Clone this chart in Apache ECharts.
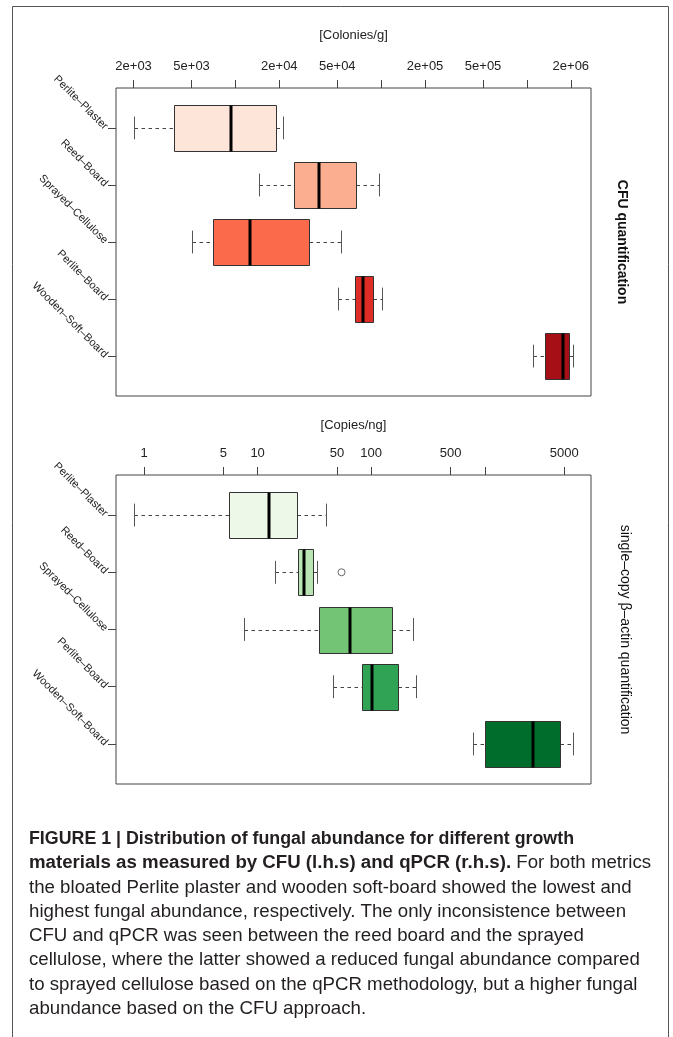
<!DOCTYPE html>
<html><head><meta charset="utf-8">
<script src="https://cdn.jsdelivr.net/npm/echarts@6/dist/echarts.min.js"></script>
<style>html,body{margin:0;padding:0;background:#fff}#c{width:673px;height:1037px}</style>
</head><body><div id="c"></div>
<script>
const categories = ['Perlite–Plaster', 'Reed–Board', 'Sprayed–Cellulose', 'Perlite–Board', 'Wooden–Soft–Board'];
// box statistics: [lower whisker, Q1, median, Q3, upper whisker]
const cfuStats = [
  [2000, 3760, 9310, 19100, 21200],
  [14500, 25300, 37600, 67000, 96300],
  [5000, 7000, 12500, 31900, 53400],
  [50900, 66300, 74900, 87700, 101000],
  [1100000, 1330000, 1760000, 1950000, 2080000]
];
const qpcrStats = [
  [0.81, 5.6, 12.7, 22.1, 40.1],
  [14.3, 22.6, 25.7, 31.0, 33.2],
  [7.6, 35.0, 65.3, 151, 233],
  [45.9, 83.3, 102, 172, 248],
  [781, 1010, 2640, 4620, 5990]
];
const qpcrOutliers = [[54.8, 2]];
const cfuColors = ['#FEE5D9', '#FCAE91', '#FB6A4A', '#DE2D26', '#A50F15'];
const qpcrColors = ['#EDF8E9', '#BAE4B3', '#74C476', '#31A354', '#006D2C'];
const cfuTickValues = [2e3, 5e3, 1e4, 2e4, 5e4, 1e5, 2e5, 5e5, 1e6, 2e6];
const cfuLabelValues = [2e3, 5e3, 2e4, 5e4, 2e5, 5e5, 2e6];
const cfuLabelTexts = ['2e+03', '5e+03', '2e+04', '5e+04', '2e+05', '5e+05', '2e+06'];
const qpcrTickValues = [1, 5, 10, 50, 100, 500, 1000, 5000];
const qpcrLabelValues = [1, 5, 10, 50, 100, 500, 5000];
const qpcrLabelTexts = ['1', '5', '10', '50', '100', '500', '5000'];
const captionLines = [
  'FIGURE 1 | Distribution of fungal abundance for different growth',
  ['materials as measured by CFU (l.h.s) and qPCR (r.h.s).', ' For both metrics'],
  'the bloated Perlite plaster and wooden soft-board showed the lowest and',
  'highest fungal abundance, respectively. The only inconsistence between',
  'CFU and qPCR was seen between the reed board and the sprayed',
  'cellulose, where the latter showed a reduced fungal abundance compared',
  'to sprayed cellulose based on the qPCR methodology, but a higher fungal',
  'abundance based on the CFU approach.'
];

const FONT = '"Liberation Sans", Arial, Helvetica, sans-serif';
const ctx = document.createElement('canvas').getContext('2d');
ctx.font = '100px "Liberation Sans"';
const capFs = 100 * 611 / ctx.measureText(captionLines[5]).width;
ctx.font = 'bold ' + capFs + 'px "Liberation Sans"';
const line1Scale = Math.min(1, 545 / ctx.measureText(captionLines[0]).width);

function labelFor(values, texts) {
  return function (v) {
    for (let i = 0; i < values.length; i++) if (Math.abs(values[i] - v) / values[i] < 1e-6) return texts[i];
    return '';
  };
}

function boxRender(colors) {
  return function (params, api) {
    const y = api.value(0);
    const v = [1, 2, 3, 4, 5].map(i => api.value(i));
    const xs = v.map(val => Math.round(api.coord([val, y])[0]) + 0.5);
    const yc = Math.round(api.coord([v[0], y])[1]) + 0.5;
    const b1 = api.coord([v[0], y - 0.4])[1], b2 = api.coord([v[0], y + 0.4])[1];
    const c1 = api.coord([v[0], y - 0.2])[1], c2 = api.coord([v[0], y + 0.2])[1];
    const top = Math.round(Math.min(b1, b2)) + 0.5, h = Math.round(Math.abs(b2 - b1));
    const ctop = Math.min(c1, c2), ch = Math.abs(c2 - c1);
    const dash = { stroke: '#444', lineWidth: 1, lineDash: [3.5, 3.5] };
    const solid = { stroke: '#555', lineWidth: 1 };
    return {
      type: 'group', children: [
        { type: 'line', shape: { x1: xs[0], y1: yc, x2: xs[1], y2: yc }, style: dash },
        { type: 'line', shape: { x1: xs[3], y1: yc, x2: xs[4], y2: yc }, style: dash },
        { type: 'line', shape: { x1: xs[0], y1: ctop, x2: xs[0], y2: ctop + ch }, style: solid },
        { type: 'line', shape: { x1: xs[4], y1: ctop, x2: xs[4], y2: ctop + ch }, style: solid },
        { type: 'rect', shape: { x: xs[1], y: top, width: xs[3] - xs[1], height: h },
          style: { fill: colors[params.dataIndex], stroke: '#333', lineWidth: 1 } },
        { type: 'line', shape: { x1: xs[2] - 0.5, y1: top, x2: xs[2] - 0.5, y2: top + h },
          style: { stroke: '#000', lineWidth: 3 } }
      ]
    };
  };
}

function xAxisDef(gi, min, max, ticks, lv, lt, name, nameGap) {
  return {
    type: 'log', gridIndex: gi, position: 'top', min: min, max: max,
    axisLine: { show: false },
    axisTick: { show: true, length: 8, customValues: ticks, lineStyle: { color: '#444' } },
    axisLabel: { customValues: lv, formatter: labelFor(lv, lt), fontSize: 13, margin: 15,
      color: '#222', fontFamily: FONT },
    splitLine: { show: false },
    name: name, nameLocation: 'middle', nameGap: nameGap,
    nameTextStyle: { fontSize: 13, color: '#222', fontFamily: FONT }
  };
}
function yAxisDef(gi) {
  return {
    type: 'value', gridIndex: gi, inverse: true, min: 0.3, max: 5.7,
    axisLine: { show: false },
    axisTick: { show: true, length: 8, customValues: [1, 2, 3, 4, 5], lineStyle: { color: '#444' } },
    axisLabel: { customValues: [1, 2, 3, 4, 5], formatter: v => categories[Math.round(v) - 1],
      rotate: -45, fontSize: 11, margin: 10, color: '#222', fontFamily: FONT },
    splitLine: { show: false }
  };
}

const graphics = [
  { type: 'rect', shape: { x: 12.5, y: 6.5, width: 656, height: 1100 },
    style: { fill: null, stroke: '#555', lineWidth: 1 }, silent: true },
  { type: 'text', x: 622, y: 242, rotation: -Math.PI / 2,
    style: { text: 'CFU quantification', fontSize: 14, fontWeight: 'bold', fill: '#111',
      fontFamily: FONT, align: 'center', verticalAlign: 'middle' } },
  { type: 'text', x: 625, y: 629.5, rotation: -Math.PI / 2,
    style: { text: 'single–copy β–actin quantification', fontSize: 14, fill: '#111',
      fontFamily: FONT, align: 'center', verticalAlign: 'middle' } }
];
captionLines.forEach((ln, i) => {
  const yMid = 845 + i * 24.3 - capFs * 0.33;
  const st = { fontSize: capFs, fill: '#231f20', fontFamily: FONT, align: 'left', verticalAlign: 'middle' };
  const el = { type: 'text', x: 29, y: yMid, style: st };
  if (Array.isArray(ln)) {
    st.text = '{b|' + ln[0] + '}{r|' + ln[1] + '}';
    st.rich = { b: { fontSize: capFs, fontWeight: 'bold', fontFamily: FONT, fill: '#231f20' },
                r: { fontSize: capFs, fontFamily: FONT, fill: '#231f20' } };
  } else {
    st.text = ln;
    if (i === 0) { st.fontWeight = 'bold'; el.scaleX = line1Scale; }
  }
  graphics.push(el);
});

const chart = echarts.init(document.getElementById('c'), null, { renderer: 'canvas' });
chart.setOption({
  animation: false,
  backgroundColor: '#fff',
  grid: [
    { left: 116, top: 88, width: 475, height: 308, show: true, borderColor: '#444', borderWidth: 1, backgroundColor: 'transparent' },
    { left: 116, top: 475, width: 475, height: 309, show: true, borderColor: '#444', borderWidth: 1, backgroundColor: 'transparent' }
  ],
  xAxis: [
    xAxisDef(0, 1515, 2.75e6, cfuTickValues, cfuLabelValues, cfuLabelTexts, '[Colonies/g]', 46),
    xAxisDef(1, 0.567, 8600, qpcrTickValues, qpcrLabelValues, qpcrLabelTexts, '[Copies/ng]', 43)
  ],
  yAxis: [yAxisDef(0), yAxisDef(1)],
  series: [
    { type: 'custom', xAxisIndex: 0, yAxisIndex: 0, renderItem: boxRender(cfuColors),
      encode: { x: [1, 2, 3, 4, 5], y: 0 }, data: cfuStats.map((s, i) => [i + 1].concat(s)) },
    { type: 'custom', xAxisIndex: 1, yAxisIndex: 1, renderItem: boxRender(qpcrColors),
      encode: { x: [1, 2, 3, 4, 5], y: 0 }, data: qpcrStats.map((s, i) => [i + 1].concat(s)) },
    { type: 'scatter', xAxisIndex: 1, yAxisIndex: 1, symbol: 'circle', symbolSize: 7,
      itemStyle: { color: 'rgba(0,0,0,0)', borderColor: '#444', borderWidth: 1 },
      data: qpcrOutliers }
  ],
  graphic: graphics
});
</script></body></html>
